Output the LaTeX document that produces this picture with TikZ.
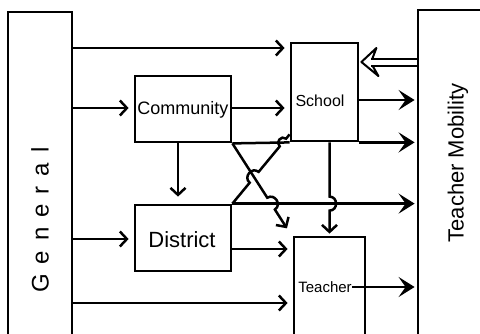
\documentclass[tikz,border=0pt]{standalone}
\usepackage{fontspec}
\setmainfont{Liberation Sans}
\usetikzlibrary{arrows.meta,calc}
\begin{document}
\begin{tikzpicture}[x=1pt,y=-1pt,
  box/.style={draw,line width=2.8pt,inner sep=0pt},
  lbl/.style={inner sep=0pt},
  con/.style={line width=2.5pt},
  arr/.style={con,-{Straight Barb[length=7pt,width=15pt]},shorten >=5pt},
  bigarr/.style={con,-{Stealth[length=16pt,width=20pt,inset=7pt]},shorten >=2pt},
  dblshaft/.style={line width=2pt,double,double distance=5pt},
  hollowhead/.style={line width=2pt,fill=white,line join=round},
  hop/.style={bend left=90,looseness=1.6}
]
\useasboundingbox (0,0) rectangle (480,333);
\clip (0,0) rectangle (480,333);

% boxes
\node[box,minimum width=64pt,minimum height=348pt] (General) at (40,186) {};
\node[box,minimum width=82pt,minimum height=350pt] (TM) at (459,185) {};
\node[box,minimum width=96pt,minimum height=66pt] (Community) at (183,109) {};
\node[box,minimum width=67pt,minimum height=98pt] (School) at (324.5,92) {};
\node[box,minimum width=96pt,minimum height=66pt] (District) at (183,238) {};
\node[box,minimum width=71pt,minimum height=123pt] (Teacher) at (329.5,298.5) {};

% labels
\node[lbl,rotate=90,font=\fontsize{24}{24}\selectfont] (tGeneral) at (40,220)
  {G\kern10pt e\kern10pt n\kern10pt e\kern10pt r\kern10pt a\kern10pt l};
\node[lbl,rotate=90,font=\fontsize{22}{22}\selectfont] (tTM) at (458,163) {Teacher Mobility};
\node[lbl,font=\fontsize{18}{18}\selectfont] (tCommunity) at (183,110) {Community};
\node[lbl,font=\fontsize{16}{16}\selectfont] (tSchool) at (320,101) {School};
\node[lbl,font=\fontsize{22}{22}\selectfont] (tDistrict) at (182,240) {District};
\node[lbl,font=\fontsize{15}{15}\selectfont] (tTeacher) at (325,287) {Teacher};

% arrows out of General
\draw[arr] (General.east |- 0,48) -- (School.west |- 0,48);
\draw[arr] (General.east |- 0,108) -- (Community.west |- 0,108);
\draw[arr] (General.east |- 0,239) -- (District.west |- 0,239);
\draw[arr] (General.east |- 0,303) -- (Teacher.west |- 0,303);

% between the inner boxes
\draw[arr] (Community.east |- 0,108) -- (School.west |- 0,108);
\draw[arr,shorten >=7pt] ([xshift=-5pt]Community.south) -- ([xshift=-5pt]District.north);
\draw[arr] (District.east |- 0,249) -- (Teacher.west |- 0,249);

% arrows into Teacher Mobility
\draw[bigarr] (School.east |- 0,100) -- (TM.west |- 0,100);
\draw[con] (Community.south east) -- (School.south west);
\draw[bigarr] (School.south east) -- (TM.west |- School.south east);
\draw[bigarr] (District.north east) -- (TM.west |- District.north east);
\draw[bigarr] (tTeacher.east) -- (TM.west |- tTeacher.east);

% feedback from Teacher Mobility to School: hollow double arrow
\coordinate (dT) at ($(School.east |- 0,62)+(2,0)$);
\draw[hollowhead] ($(dT)+(11,-3.5)$) -- ($(dT)+(15,-14)$) -- (dT)
  -- ($(dT)+(17,14)$) -- ($(dT)+(11,3.5)$);
\draw[dblshaft] ($(dT)+(10,0)$) -- (TM.west |- dT);

% crossing lines with hops
\coordinate (A1) at (Community.south east);
\coordinate (A2) at (288,230);
\coordinate (B1) at (District.north east);
\coordinate (B2) at ([yshift=8pt]School.south west);
\coordinate (H1) at (District.north east);
\coordinate (H2) at (TM.west |- District.north east);
\coordinate (S1) at (Community.south east);
\coordinate (S2) at (School.south west);
\coordinate (V1) at (Teacher.north |- School.south);
\coordinate (V2) at (Teacher.north);
\coordinate (xAB) at (intersection of A1--A2 and B1--B2);
\coordinate (xAH) at (intersection of A1--A2 and H1--H2);
\coordinate (xBS) at (intersection of B1--B2 and S1--S2);
\coordinate (xVH) at (V1 |- H1);

\draw[arr,shorten >=2pt] (A1) -- ($(xAH)!7pt!(A1)$) to[hop] ($(xAH)!7pt!(A2)$) -- (A2);
\draw[con] (B1) -- ($(xAB)!7pt!(B1)$) to[hop] ($(xAB)!7pt!(B2)$)
  -- ($(xBS)!5pt!(B1)$) to[hop] ($(xBS)!5pt!(B2)$) -- (B2);
\draw[arr,shorten >=2pt] (V1) -- ($(xVH)!7pt!(V1)$) to[hop] ($(xVH)!7pt!(V2)$) -- (V2);
\end{tikzpicture}
\end{document}
